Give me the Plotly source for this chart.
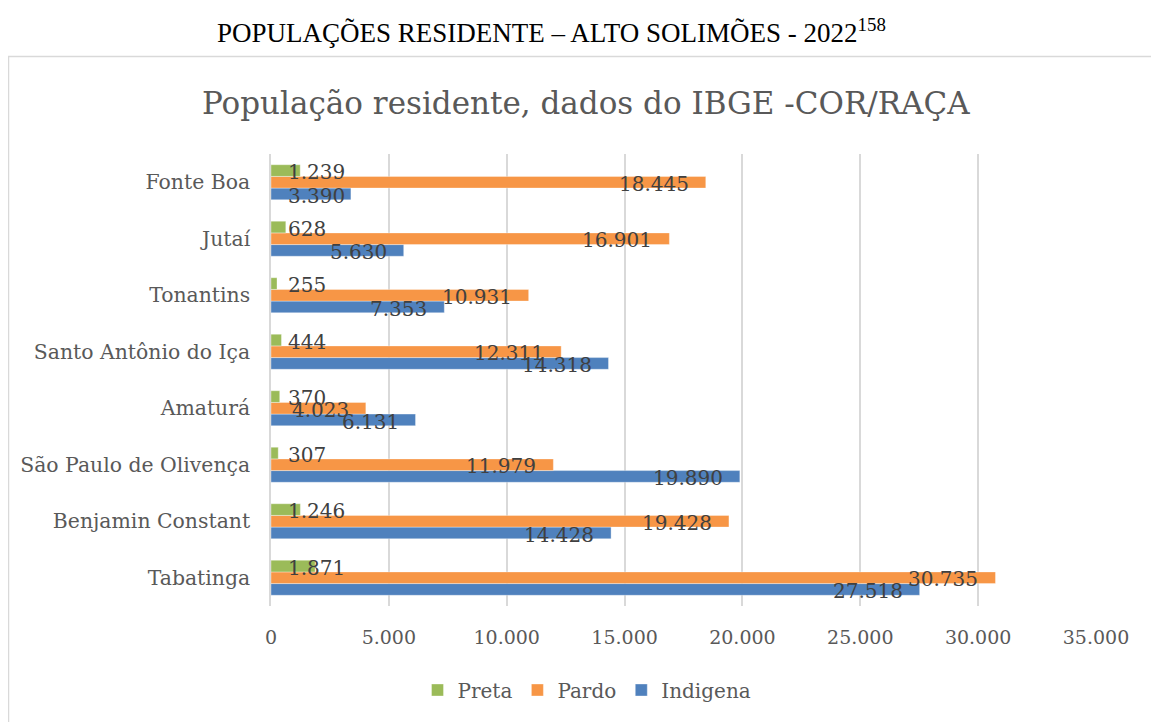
import plotly.graph_objects as go

# ---- data ----
categories = ["Tabatinga", "Benjamin Constant", "São Paulo de Olivença", "Amaturá",
              "Santo Antônio do Iça", "Tonantins", "Jutaí", "Fonte Boa"]
indigena = [27518, 14428, 19890, 6131, 14318, 7353, 5630, 3390]
pardo = [30735, 19428, 11979, 4023, 12311, 10931, 16901, 18445]
preta = [1871, 1246, 307, 370, 444, 255, 628, 1239]
x_tick_values = [0, 5000, 10000, 15000, 20000, 25000, 30000, 35000]
x_tick_labels = ["0", "5.000", "10.000", "15.000", "20.000", "25.000", "30.000", "35.000"]

header = "POPULAÇÕES RESIDENTE – ALTO SOLIMÕES - 2022<sup>158</sup>"
chart_title = "População residente, dados do IBGE -COR/RAÇA"

series = [("Indigena", indigena, "#4F81BD"),
          ("Pardo", pardo, "#F79646"),
          ("Preta", preta, "#9BBB59")]

FONT = "DejaVu Serif"
BODY = 8  # browser default body margin
W, H = 1159 - BODY, 722 - BODY
# plot area in page pixels: x 271..1096, y 154..606
ML, MT = 271 - BODY, 154 - BODY
MR, MB = W - (1096 - BODY), H - (606 - BODY)
XMAX = 35000
BARGAP = 0.38

def fmt(v):
    return f"{v:,}".replace(",", ".")

ypos = list(range(len(categories)))

fig = go.Figure()
for name, vals, color in series:
    fig.add_trace(go.Bar(
        name=name, y=ypos, x=vals, orientation="h",
        marker=dict(color=color, line=dict(color="rgba(255,255,255,0.35)", width=1)),
        hoverinfo="x+name",
    ))

plot_w = W - ML - MR
plot_h = H - MT - MB
ppu = plot_w / XMAX

def px(pix):  # page pixel x -> paper
    return (pix - BODY - ML) / plot_w

def py(pix):  # page pixel y -> paper
    return (H - MB - (pix - BODY)) / plot_h

# data labels (Excel "inside end" style)
pad_px = 16
label_size = 20
bw = (1 - BARGAP) / len(series)
annotations = []
for k, (name, vals, color) in enumerate(series):
    off = (k - (len(series) - 1) / 2) * bw
    for i, v in enumerate(vals):
        t = fmt(v)
        wpx = sum(12.7 if c.isdigit() else 6.4 for c in t)
        end_px = v * ppu - pad_px
        if end_px - wpx >= pad_px:
            x, anchor = v - pad_px / ppu, "right"
        else:
            x, anchor = pad_px / ppu, "left"
        annotations.append(dict(
            x=x, y=i + off - 0.03, xref="x", yref="y", text=t, showarrow=False,
            xanchor=anchor, yanchor="middle", borderpad=0,
            font=dict(family=FONT, size=label_size, color="#404040")))

annotations.append(dict(
    x=px(215), y=py(31), xref="paper", yref="paper", text=header, showarrow=False,
    xanchor="left", yanchor="middle",
    font=dict(family="Liberation Serif", size=27, color="#000000")))
annotations.append(dict(
    x=px(586), y=py(103), xref="paper", yref="paper", text=chart_title, showarrow=False,
    xanchor="center", yanchor="middle",
    font=dict(family=FONT, size=31, color="#595959")))

fig.update_layout(
    width=W, height=H,
    margin=dict(l=ML, r=MR, t=MT, b=MB, autoexpand=False),
    paper_bgcolor="white", plot_bgcolor="rgba(0,0,0,0)",
    barmode="group", bargap=BARGAP, bargroupgap=0,
    font=dict(family=FONT, color="#595959"),
    showlegend=True,
    legend=dict(orientation="h", x=px(587), xanchor="center", y=py(690), yanchor="middle",
                traceorder="reversed", font=dict(family=FONT, size=20, color="#595959"),
                bgcolor="rgba(0,0,0,0)"),
    annotations=annotations,
    shapes=[dict(type="rect", xref="paper", yref="paper",
                 x0=px(8.5), x1=px(1180), y0=py(760), y1=py(56.5),
                 line=dict(color="#D9D9D9", width=1.5), fillcolor="rgba(0,0,0,0)", layer="above")],
    xaxis=dict(range=[0, XMAX], tickvals=x_tick_values, ticktext=x_tick_labels,
               showgrid=True, gridcolor="#D9D9D9", gridwidth=1.5, zeroline=False,
               showline=False, ticks="", ticklabelstandoff=18,
               tickfont=dict(family=FONT, size=19, color="#595959"), fixedrange=True),
    yaxis=dict(range=[-0.5, len(categories) - 0.5], tickvals=ypos, ticktext=categories,
               showgrid=False, zeroline=False, showline=True, linecolor="#D9D9D9",
               linewidth=1.5, ticks="", ticklabelstandoff=15,
               tickfont=dict(family=FONT, size=20.4, color="#595959"), fixedrange=True),
)

fig.write_html("out.html")
